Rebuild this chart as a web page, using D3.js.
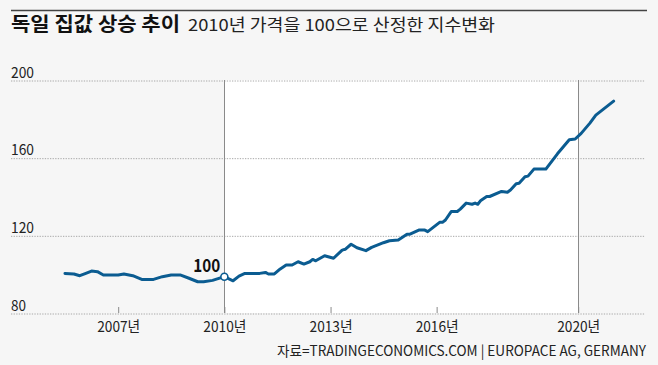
<!DOCTYPE html>
<html><head><meta charset="utf-8">
<script src="https://cdn.jsdelivr.net/npm/d3@7"></script>
<style>
body{margin:0;background:#f6f6f6;}
svg{display:block;font-family:"Noto Sans CJK KR","Noto Sans",sans-serif;}
</style>
</head><body>
<svg id="chart" width="658" height="365"></svg>
<script>
// ---- data ----
const dates = ["2005-07","2005-10","2005-12","2006-02","2006-04","2006-06","2006-08","2007-01","2007-03","2007-06",
"2007-09","2008-01","2008-04","2008-07","2008-10","2009-01","2009-04","2009-06","2009-09","2010-01",
"2010-02","2010-04","2010-06","2010-08","2011-01","2011-03","2011-04","2011-06","2011-08","2011-10",
"2011-12","2012-02","2012-04","2012-06","2012-07","2012-08","2012-11","2013-02","2013-05","2013-06",
"2013-08","2013-10","2014-01","2014-03","2014-07","2014-09","2014-12","2015-03","2015-04","2015-07",
"2015-09","2015-10","2016-02","2016-03","2016-04","2016-06","2016-08","2016-09","2016-11","2017-01",
"2017-02","2017-03","2017-04","2017-06","2017-07","2017-11","2018-01","2018-02","2018-04","2018-05",
"2018-07","2018-08","2018-10","2019-02","2019-06","2019-08","2019-10","2019-12","2020-02","2020-05",
"2020-07","2021-01"];
const values = [100.4,100.1,99.2,100.4,101.6,101.3,99.6,99.6,100.1,99.2,
97.3,97.3,98.7,99.6,99.6,97.9,96.1,96.1,96.8,98.7,
97.9,96.6,99.0,100.4,100.4,100.9,100.1,100.1,102.7,104.7,
104.7,106.4,105.2,106.4,107.6,106.9,109.5,108.2,112.4,112.8,
115.4,113.6,112.1,113.8,116.2,117.2,117.6,120.6,120.6,122.7,
122.7,121.9,126.7,126.7,127.9,132.3,132.3,133.5,136.6,136.0,
136.6,136.0,138.0,140.0,140.0,142.6,142.2,143.3,146.6,146.8,
150.2,150.5,154.1,154.1,162.0,165.6,169.2,169.6,172.5,177.8,
181.9,189.1];
const yTicks = [80,120,160,200];
const xTickYears = [2007,2010,2013,2016,2020];
const shadeYears = [2010,2020];
const baseDate = "2010-01";
const baseLabel = "100";
const titleText = "독일 집값 상승 추이";
const subtitleText = "2010년 가격을 100으로 산정한 지수변화";
const sourceText = "자료=TRADINGECONOMICS.COM | EUROPACE AG, GERMANY";

const parse = d3.timeParse("%Y-%m");
const data = dates.map((d,i)=>({date:parse(d), value:values[i]}));
const yr = y => new Date(y,0,1);

const svg = d3.select("#chart");
const x = d3.scaleTime().domain([yr(2004), yr(2022)]).range([12, 649]);
const y = d3.scaleLinear().domain([80, 200]).range([313, 80]);
const lineColor = "#0b5c91";

// background
svg.append("rect").attr("width",658).attr("height",365).attr("fill","#f6f6f6");
// white band 2010-2020
svg.append("rect")
  .attr("x", x(yr(shadeYears[0]))).attr("y", y(200))
  .attr("width", x(yr(shadeYears[1])) - x(yr(shadeYears[0])))
  .attr("height", y(80) - y(200)).attr("fill","#ffffff");

// top rule
svg.append("line").attr("x1",11).attr("x2",647).attr("y1",10.5).attr("y2",10.5)
  .attr("stroke","#444").attr("stroke-width",1.6);

// title
const t = svg.append("text").attr("x",11).attr("y",31).attr("fill","#111");
t.append("tspan").attr("font-size",19.5).attr("font-weight",700).text(titleText)
  .attr("textLength",169).attr("lengthAdjust","spacingAndGlyphs");
svg.append("text").attr("x",188).attr("y",31).attr("font-size",16.5).attr("fill","#222")
  .attr("textLength",307).attr("lengthAdjust","spacingAndGlyphs").text(subtitleText);

// y gridlines via axis
const yAxis = d3.axisLeft(y).tickValues(yTicks).tickSize(-(645-11)).tickFormat("");
const gy = svg.append("g").attr("transform","translate(11,0)").call(yAxis);
gy.select(".domain").remove();
gy.selectAll(".tick line").attr("stroke","#a8a8a8").attr("stroke-dasharray","1.3,1.3")
  .attr("transform","translate(0,0.5)");
// y labels
svg.append("g").selectAll("text").data(yTicks).join("text")
  .attr("x",11).attr("y",d=>y(d)-2.5).attr("font-size",15).attr("fill","#222")
  .attr("textLength",d=>String(d).length===3?23:15).attr("lengthAdjust","spacingAndGlyphs")
  .text(d=>d);

// vertical full lines at 2010, 2020
svg.append("g").selectAll("line").data(shadeYears).join("line")
  .attr("x1",d=>Math.round(x(yr(d)))+0.5).attr("x2",d=>Math.round(x(yr(d)))+0.5)
  .attr("y1",y(200)).attr("y2",y(80)).attr("stroke","#8a8a8a").attr("stroke-width",1);

// x axis ticks & labels
const xAxis = d3.axisBottom(x).tickValues(xTickYears.map(yr)).tickSizeInner(-6).tickSizeOuter(0)
  .tickFormat(d=>d.getFullYear()+"년");
const gx = svg.append("g").attr("transform","translate(0,313)").call(xAxis);
gx.select(".domain").remove();
gx.selectAll(".tick line").attr("stroke","#8a8a8a");
gx.selectAll(".tick text").attr("y",19).attr("dy",0).attr("font-size",15).attr("fill","#222")
  .attr("font-family",'"Noto Sans CJK KR",sans-serif')
  .attr("textLength",43).attr("lengthAdjust","spacingAndGlyphs");

// line
const line = d3.line().x(d=>x(d.date)).y(d=>y(d.value));
svg.append("path").datum(data).attr("d",line).attr("fill","none")
  .attr("stroke",lineColor).attr("stroke-width",3).attr("stroke-linejoin","round").attr("stroke-linecap","round");

// base marker
const bd = data.find(d=>+d.date===+parse(baseDate));
svg.append("circle").attr("cx",x(bd.date)).attr("cy",y(bd.value)).attr("r",3.5)
  .attr("fill","#fff").attr("stroke",lineColor).attr("stroke-width",1.6);
svg.append("text").attr("x",x(bd.date)-4).attr("y",y(bd.value)-5).attr("text-anchor","end")
  .attr("font-size",18).attr("font-weight",700).attr("fill","#111")
  .attr("textLength",27).attr("lengthAdjust","spacingAndGlyphs").text(baseLabel);

// source
svg.append("text").attr("x",646).attr("y",355.5).attr("text-anchor","end")
  .attr("font-size",14).attr("fill","#222")
  .attr("textLength",369).attr("lengthAdjust","spacingAndGlyphs").text(sourceText);
</script>
</body></html>
